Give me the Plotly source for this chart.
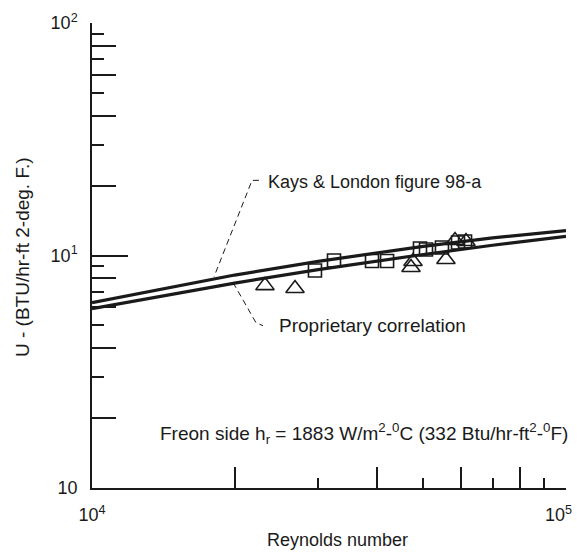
import plotly.graph_objects as go

# ---- data ----
re_curve = [1e4, 1.5e4, 2e4, 3e4, 4e4, 5e4, 7e4, 1e5]
u_kays = [6.27, 7.39, 8.24, 9.44, 10.3, 10.95, 11.9, 12.8]
u_prop = [5.91, 6.88, 7.61, 8.69, 9.48, 10.1, 11.07, 12.08]

re_squares = [29540, 32400, 38970, 41930, 49200, 50660, 54740, 59180, 61240]
u_squares = [8.62, 9.52, 9.47, 9.47, 10.72, 10.61, 10.83, 11.38, 11.49]

re_tri = [23170, 26810, 47100, 47560, 55810, 58320, 61520]
u_tri = [7.42, 7.21, 8.88, 9.42, 9.61, 11.60, 11.49]

# leader lines (data coords)
kays_leader_re = [22500, 21760, 18090]
kays_leader_u = [21.05, 21.05, 8.1]
prop_leader_re = [19840, 22180, 22950]
prop_leader_u = [7.65, 5.14, 4.99]

x_decade_ticks = [1e4, 1e5]
x_decade_text = ["10<sup>4</sup>", "10<sup>5</sup>&nbsp;&nbsp;&nbsp;"]
x_long_ticks = [2e4, 4e4, 6e4, 8e4]
x_short_ticks = [3e4, 5e4, 7e4, 9e4]

y_decade_ticks = [1, 10, 100]
y_decade_text = ["10", "10<sup>1</sup>", "10<sup>2</sup>"]
y_long_ticks = [2, 4, 6, 8, 20, 40, 60, 80]
y_short_ticks = [3, 5, 7, 9, 30, 50, 70, 90]

FONT = "Liberation Sans, Arial, sans-serif"
INK = "#1a1a1a"
FS = 18

fig = go.Figure()
fig.add_trace(go.Scatter(x=re_curve, y=u_kays, mode="lines",
                         line=dict(color=INK, width=3.2), showlegend=False))
fig.add_trace(go.Scatter(x=re_curve, y=u_prop, mode="lines",
                         line=dict(color=INK, width=3.2), showlegend=False))
fig.add_trace(go.Scatter(x=re_squares, y=u_squares, mode="markers",
                         marker=dict(symbol="square-open", size=13, color=INK,
                                     line=dict(width=1.6)), showlegend=False))
fig.add_trace(go.Scatter(x=re_tri, y=u_tri, mode="markers",
                         marker=dict(symbol="triangle-up-open", size=16, color=INK,
                                     line=dict(width=1.6)), showlegend=False))
fig.add_trace(go.Scatter(x=kays_leader_re, y=kays_leader_u, mode="lines",
                         line=dict(color=INK, width=1, dash="6px,4px"), showlegend=False))
fig.add_trace(go.Scatter(x=prop_leader_re, y=prop_leader_u, mode="lines",
                         line=dict(color=INK, width=1, dash="6px,4px"), showlegend=False))
# dummy trace for overlay axes (long intermediate ticks)
fig.add_trace(go.Scatter(x=[], y=[], xaxis="x2", yaxis="y2", showlegend=False))

L, R, T, B = 92, 11, 23, 64
W, H = 577, 552
pw, ph = W - L - R, H - T - B

def px2paper(px, py):
    return (px - L) / pw, (H - B - py) / ph

fig.update_layout(
    width=W, height=H,
    margin=dict(l=L, r=R, t=T, b=B, autoexpand=False),
    paper_bgcolor="white", plot_bgcolor="white",
    font=dict(family=FONT, size=FS, color=INK),
    xaxis=dict(type="log", range=[4, 5], showgrid=False, zeroline=False,
               showline=True, linecolor=INK, linewidth=1.5,
               ticks="inside", ticklen=34, tickwidth=1.5, tickcolor=INK,
               tickmode="array", tickvals=x_decade_ticks, ticktext=x_decade_text,
               tickfont=dict(size=FS), ticklabelstandoff=10, ticklabeloverflow="allow",
               automargin=False,
               minor=dict(ticks="inside", ticklen=10, tickwidth=1.5, tickcolor=INK,
                          tickmode="array", tickvals=x_short_ticks, showgrid=False)),
    yaxis=dict(type="log", range=[0, 2], showgrid=False, zeroline=False,
               showline=True, linecolor=INK, linewidth=1.5,
               ticks="inside", ticklen=36, tickwidth=1.5, tickcolor=INK,
               tickmode="array", tickvals=y_decade_ticks, ticktext=y_decade_text,
               tickfont=dict(size=FS), ticklabelstandoff=9, automargin=False,
               minor=dict(ticks="inside", ticklen=12, tickwidth=1.5, tickcolor=INK,
                          tickmode="array", tickvals=y_short_ticks, showgrid=False)),
    xaxis2=dict(type="log", range=[4, 5], overlaying="x", anchor="y2", side="bottom",
                showgrid=False, zeroline=False, showline=False, automargin=False,
                ticks="inside", ticklen=21, tickwidth=1.5, tickcolor=INK,
                tickmode="array", tickvals=x_long_ticks, showticklabels=False),
    yaxis2=dict(type="log", range=[0, 2], overlaying="y", anchor="x2", side="left",
                showgrid=False, zeroline=False, showline=False, automargin=False,
                ticks="inside", ticklen=24, tickwidth=1.5, tickcolor=INK,
                tickmode="array", tickvals=y_long_ticks, showticklabels=False),
)

ann = []
x, y = px2paper(266, 182)
ann.append(dict(x=x, y=y, text="Kays & London figure 98-a", font=dict(size=18)))
x, y = px2paper(277, 325)
ann.append(dict(x=x, y=y, text="Proprietary correlation", font=dict(size=19)))
x, y = px2paper(158, 433)
ann.append(dict(x=x, y=y, font=dict(size=19),
                text="Freon side h<sub>r</sub> = 1883 W/m<sup>2</sup>-<sup>0</sup>C (332 Btu/hr-ft<sup>2</sup>-<sup>0</sup>F)"))
for a in ann:
    fig.add_annotation(xref="paper", yref="paper", xanchor="left", yanchor="middle",
                       showarrow=False, **a)
x, y = px2paper(337, 540)
fig.add_annotation(xref="paper", yref="paper", x=x, y=y, xanchor="center", yanchor="middle",
                   showarrow=False, text="Reynolds number", font=dict(size=FS))
x, y = px2paper(22, 257)
fig.add_annotation(xref="paper", yref="paper", x=x, y=y, xanchor="center", yanchor="middle",
                   showarrow=False, textangle=-90, text="U - (BTU/hr-ft 2-deg. F.)",
                   font=dict(size=19))

fig.write_html("out.html")
